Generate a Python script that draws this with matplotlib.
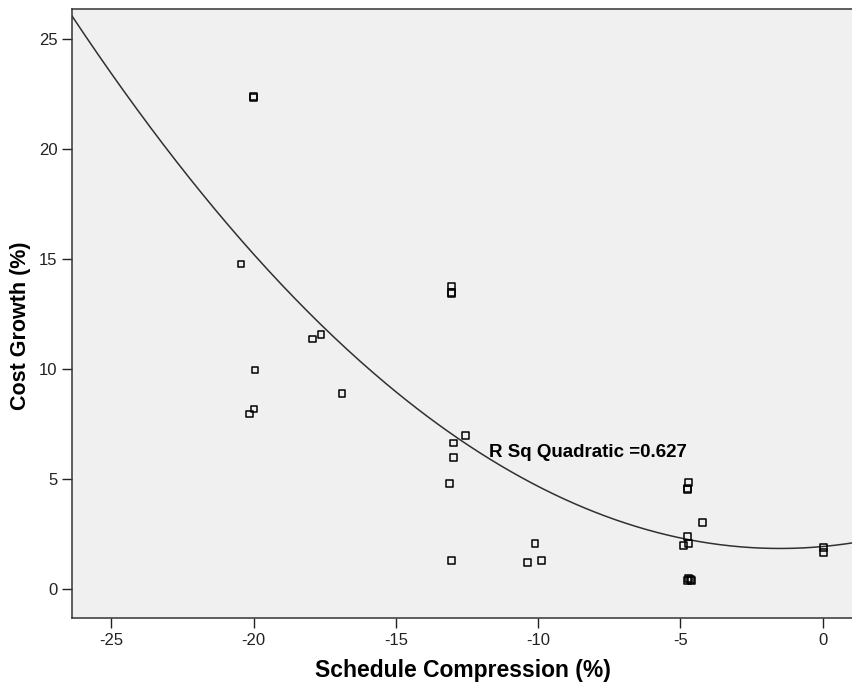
import numpy as np
import matplotlib
matplotlib.use("Agg")
import matplotlib.pyplot as plt

# schedule compression (%) vs cost growth (%)
schedule_compression = [
    -20.0, -20.0, -20.44, -17.94, -17.63, -19.95, -19.98, -20.13, -16.89,
    -13.05, -13.05, -13.05, -12.56, -12.98, -12.98, -13.12, -13.04,
    -10.11, -10.36, -9.87,
    -4.71, -4.76, -4.76, -4.21, -4.74, -4.71, -4.88,
    -4.75, -4.65, -4.7, -4.6,
    0.02, 0.02,
]
cost_growth = [
    22.36, 22.4, 14.79, 11.38, 11.6, 9.97, 8.2, 7.97, 8.92,
    13.79, 13.48, 13.45, 7.0, 6.65, 6.0, 4.82, 1.3,
    2.07, 1.23, 1.3,
    4.85, 4.57, 4.55, 3.05, 2.39, 2.09, 2.01,
    0.4, 0.45, 0.5, 0.42,
    1.91, 1.66,
]

# quadratic fit as drawn in the original (y = a*x^2 + b*x + c)
fit_coefficients = [0.0391, 0.1173, 1.948]
r_sq_quadratic = 0.627

x_ticks = [-25, -20, -15, -10, -5, 0]
y_ticks = [0, 5, 10, 15, 20, 25]

plt.rcParams["font.family"] = ["Liberation Sans", "DejaVu Sans"]
plt.rcParams["axes.unicode_minus"] = False

fig = plt.figure(figsize=(8.53, 6.91), dpi=100)
ax = fig.add_axes([72 / 853, 1 - 618 / 691, 1 - 72 / 853, (618 - 9) / 691])
ax.set_facecolor("#f0f0f0")

xlim = (-26.38, 1.07)
xs = np.linspace(xlim[0], xlim[1], 300)
ax.plot(xs, np.polyval(fit_coefficients, xs), color="#303030", lw=1.1, zorder=2)
ax.scatter(schedule_compression, cost_growth, marker="s", s=24,
           facecolors="none", edgecolors="black", linewidths=1.1, zorder=3)

ax.text(-11.72, 6.2, "R Sq Quadratic =%.3f" % r_sq_quadratic, fontsize=13.5,
        fontweight="bold", va="center", ha="left")

ax.set_xlim(*xlim)
ax.set_ylim(-1.3, 26.38)
ax.set_xticks(x_ticks)
ax.set_yticks(y_ticks)
ax.tick_params(direction="out", length=7, width=1, labelsize=12,
               colors="#222222", labelcolor="#222222")
for s in ["left", "bottom", "top"]:
    ax.spines[s].set_linewidth(1.1)
    ax.spines[s].set_color("#333333")
ax.spines["right"].set_visible(False)

ax.set_xlabel("Schedule Compression (%)", fontsize=16.5, fontweight="bold",
              labelpad=8)
ax.set_ylabel("Cost Growth (%)", fontsize=15.5, fontweight="bold")
ax.yaxis.set_label_coords(-0.052, 0.48)

fig.savefig("out.png", dpi=100)
